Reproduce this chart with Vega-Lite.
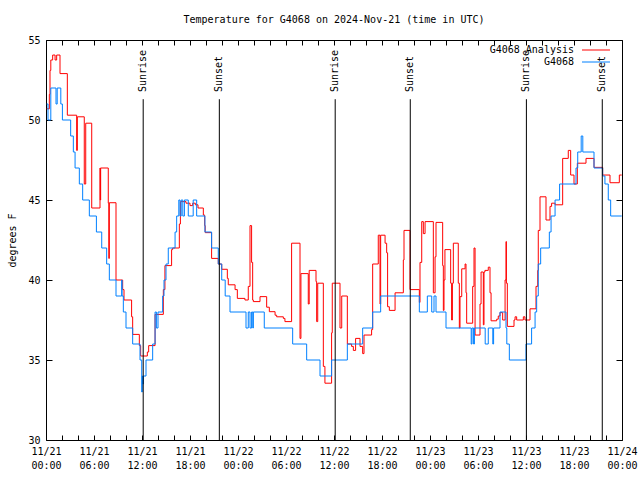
{
  "$schema": "https://vega.github.io/schema/vega-lite/v6.json",
  "width": 576,
  "height": 400,
  "autosize": "none",
  "padding": {"left": 46, "top": 40, "right": 18, "bottom": 40},
  "title": {"text": "Temperature for G4068 on 2024-Nov-21 (time in UTC)", "font": "DejaVu Sans Mono", "fontSize": 10, "fontWeight": "normal", "color": "black", "offset": 10, "anchor": "middle"},
  "config": {"view": {"stroke": "black", "strokeWidth": 1}, "font": "DejaVu Sans Mono"},
  "datasets": {
    "analysis": [
      {"t": "2024-11-21T00:05Z", "v": 50.7}, {"t": "2024-11-21T00:25Z", "v": 51.6}, {"t": "2024-11-21T00:30Z", "v": 53.1}, {"t": "2024-11-21T00:36Z", "v": 53.75}, {"t": "2024-11-21T00:50Z", "v": 54.06}, {"t": "2024-11-21T01:08Z", "v": 53.75}, {"t": "2024-11-21T01:20Z", "v": 54.06}, {"t": "2024-11-21T01:45Z", "v": 52.9}, {"t": "2024-11-21T02:40Z", "v": 50.3}, {"t": "2024-11-21T03:50Z", "v": 48.1}, {"t": "2024-11-21T03:55Z", "v": 50.2}, {"t": "2024-11-21T04:47Z", "v": 46.0}, {"t": "2024-11-21T04:58Z", "v": 49.8}, {"t": "2024-11-21T05:43Z", "v": 44.5}, {"t": "2024-11-21T06:45Z", "v": 47.0}, {"t": "2024-11-21T06:47Z", "v": 45.0}, {"t": "2024-11-21T06:50Z", "v": 47.0}, {"t": "2024-11-21T07:47Z", "v": 44.8}, {"t": "2024-11-21T07:51Z", "v": 41.35}, {"t": "2024-11-21T07:55Z", "v": 44.83}, {"t": "2024-11-21T08:45Z", "v": 40.0}, {"t": "2024-11-21T09:35Z", "v": 39.4}, {"t": "2024-11-21T09:45Z", "v": 38.75}, {"t": "2024-11-21T10:42Z", "v": 37.7}, {"t": "2024-11-21T10:50Z", "v": 36.6}, {"t": "2024-11-21T11:40Z", "v": 35.9}, {"t": "2024-11-21T11:50Z", "v": 35.25}, {"t": "2024-11-21T12:40Z", "v": 35.5}, {"t": "2024-11-21T12:50Z", "v": 35.9}, {"t": "2024-11-21T13:38Z", "v": 37.85}, {"t": "2024-11-21T14:40Z", "v": 39.4}, {"t": "2024-11-21T14:52Z", "v": 40.9}, {"t": "2024-11-21T15:42Z", "v": 41.9}, {"t": "2024-11-21T15:50Z", "v": 42.0}, {"t": "2024-11-21T16:40Z", "v": 43.5}, {"t": "2024-11-21T16:48Z", "v": 44.9}, {"t": "2024-11-21T17:30Z", "v": 44.8}, {"t": "2024-11-21T18:00Z", "v": 44.65}, {"t": "2024-11-21T18:20Z", "v": 44.8}, {"t": "2024-11-21T18:40Z", "v": 44.7}, {"t": "2024-11-21T19:00Z", "v": 44.5}, {"t": "2024-11-21T19:40Z", "v": 44.06}, {"t": "2024-11-21T19:50Z", "v": 43.4}, {"t": "2024-11-21T19:54Z", "v": 42.96}, {"t": "2024-11-21T20:42Z", "v": 41.35}, {"t": "2024-11-21T21:32Z", "v": 41.0}, {"t": "2024-11-21T21:58Z", "v": 40.67}, {"t": "2024-11-21T22:40Z", "v": 40.1}, {"t": "2024-11-21T22:47Z", "v": 39.7}, {"t": "2024-11-21T23:38Z", "v": 39.4}, {"t": "2024-11-21T23:55Z", "v": 38.85},
      {"t": "2024-11-22T00:52Z", "v": 38.75}, {"t": "2024-11-22T01:17Z", "v": 39.6}, {"t": "2024-11-22T01:30Z", "v": 43.4}, {"t": "2024-11-22T01:42Z", "v": 41.1}, {"t": "2024-11-22T01:50Z", "v": 38.75}, {"t": "2024-11-22T01:55Z", "v": 38.65}, {"t": "2024-11-22T02:45Z", "v": 38.96}, {"t": "2024-11-22T03:35Z", "v": 38.3}, {"t": "2024-11-22T03:55Z", "v": 38.02}, {"t": "2024-11-22T04:38Z", "v": 37.8}, {"t": "2024-11-22T04:50Z", "v": 37.7}, {"t": "2024-11-22T05:40Z", "v": 37.6}, {"t": "2024-11-22T05:52Z", "v": 37.4}, {"t": "2024-11-22T06:42Z", "v": 42.3}, {"t": "2024-11-22T07:45Z", "v": 36.35}, {"t": "2024-11-22T07:52Z", "v": 40.4}, {"t": "2024-11-22T08:47Z", "v": 38.5}, {"t": "2024-11-22T08:54Z", "v": 40.6}, {"t": "2024-11-22T09:45Z", "v": 39.9}, {"t": "2024-11-22T09:50Z", "v": 37.4}, {"t": "2024-11-22T09:58Z", "v": 39.8}, {"t": "2024-11-22T10:40Z", "v": 34.6}, {"t": "2024-11-22T10:52Z", "v": 33.55}, {"t": "2024-11-22T11:42Z", "v": 36.7}, {"t": "2024-11-22T11:47Z", "v": 39.8}, {"t": "2024-11-22T12:45Z", "v": 37.0}, {"t": "2024-11-22T12:58Z", "v": 39.0}, {"t": "2024-11-22T13:40Z", "v": 36.0}, {"t": "2024-11-22T14:12Z", "v": 35.85}, {"t": "2024-11-22T14:25Z", "v": 35.6}, {"t": "2024-11-22T14:42Z", "v": 36.35}, {"t": "2024-11-22T15:15Z", "v": 35.85}, {"t": "2024-11-22T15:35Z", "v": 35.4}, {"t": "2024-11-22T15:45Z", "v": 36.56}, {"t": "2024-11-22T16:42Z", "v": 36.9}, {"t": "2024-11-22T16:50Z", "v": 41.0}, {"t": "2024-11-22T17:32Z", "v": 42.8}, {"t": "2024-11-22T17:45Z", "v": 38.5}, {"t": "2024-11-22T17:50Z", "v": 42.8}, {"t": "2024-11-22T18:23Z", "v": 42.3}, {"t": "2024-11-22T18:35Z", "v": 41.7}, {"t": "2024-11-22T18:42Z", "v": 38.33}, {"t": "2024-11-22T18:55Z", "v": 38.1}, {"t": "2024-11-22T19:38Z", "v": 39.2}, {"t": "2024-11-22T20:40Z", "v": 41.25}, {"t": "2024-11-22T20:45Z", "v": 43.1}, {"t": "2024-11-22T21:30Z", "v": 39.4}, {"t": "2024-11-22T22:40Z", "v": 38.6}, {"t": "2024-11-22T22:45Z", "v": 41.1}, {"t": "2024-11-22T22:58Z", "v": 43.65}, {"t": "2024-11-22T23:10Z", "v": 42.9}, {"t": "2024-11-22T23:23Z", "v": 43.65},
      {"t": "2024-11-23T00:25Z", "v": 39.2}, {"t": "2024-11-23T00:38Z", "v": 41.45}, {"t": "2024-11-23T00:45Z", "v": 43.6}, {"t": "2024-11-23T01:35Z", "v": 40.9}, {"t": "2024-11-23T01:40Z", "v": 38.1}, {"t": "2024-11-23T01:45Z", "v": 40.0}, {"t": "2024-11-23T01:52Z", "v": 41.9}, {"t": "2024-11-23T02:35Z", "v": 39.8}, {"t": "2024-11-23T02:42Z", "v": 37.5}, {"t": "2024-11-23T02:48Z", "v": 39.8}, {"t": "2024-11-23T02:55Z", "v": 42.3}, {"t": "2024-11-23T03:32Z", "v": 39.8}, {"t": "2024-11-23T03:40Z", "v": 37.0}, {"t": "2024-11-23T03:45Z", "v": 38.96}, {"t": "2024-11-23T03:58Z", "v": 40.7}, {"t": "2024-11-23T04:23Z", "v": 41.0}, {"t": "2024-11-23T04:30Z", "v": 39.2}, {"t": "2024-11-23T04:35Z", "v": 37.3}, {"t": "2024-11-23T05:20Z", "v": 39.6}, {"t": "2024-11-23T05:30Z", "v": 42.0}, {"t": "2024-11-23T05:38Z", "v": 36.56}, {"t": "2024-11-23T06:15Z", "v": 38.5}, {"t": "2024-11-23T06:23Z", "v": 40.5}, {"t": "2024-11-23T06:40Z", "v": 37.2}, {"t": "2024-11-23T06:45Z", "v": 40.5}, {"t": "2024-11-23T06:52Z", "v": 40.6}, {"t": "2024-11-23T07:17Z", "v": 40.8}, {"t": "2024-11-23T07:30Z", "v": 39.2}, {"t": "2024-11-23T07:38Z", "v": 37.45}, {"t": "2024-11-23T08:20Z", "v": 37.55}, {"t": "2024-11-23T08:32Z", "v": 37.75}, {"t": "2024-11-23T08:45Z", "v": 37.96}, {"t": "2024-11-23T09:05Z", "v": 37.5}, {"t": "2024-11-23T09:23Z", "v": 40.0}, {"t": "2024-11-23T09:30Z", "v": 42.4}, {"t": "2024-11-23T09:33Z", "v": 39.8}, {"t": "2024-11-23T09:40Z", "v": 37.1}, {"t": "2024-11-23T10:30Z", "v": 37.5}, {"t": "2024-11-23T10:38Z", "v": 37.7}, {"t": "2024-11-23T10:50Z", "v": 37.5}, {"t": "2024-11-23T11:40Z", "v": 37.7}, {"t": "2024-11-23T11:52Z", "v": 37.5}, {"t": "2024-11-23T12:30Z", "v": 38.2}, {"t": "2024-11-23T13:15Z", "v": 39.6}, {"t": "2024-11-23T13:28Z", "v": 40.6}, {"t": "2024-11-23T13:32Z", "v": 43.1}, {"t": "2024-11-23T13:45Z", "v": 45.2}, {"t": "2024-11-23T14:30Z", "v": 43.75}, {"t": "2024-11-23T15:00Z", "v": 44.6}, {"t": "2024-11-23T15:12Z", "v": 44.8}, {"t": "2024-11-23T15:38Z", "v": 44.7}, {"t": "2024-11-23T16:35Z", "v": 47.6}, {"t": "2024-11-23T17:17Z", "v": 48.1}, {"t": "2024-11-23T17:35Z", "v": 46.56}, {"t": "2024-11-23T18:00Z", "v": 46.0}, {"t": "2024-11-23T18:25Z", "v": 47.3}, {"t": "2024-11-23T19:30Z", "v": 47.6}, {"t": "2024-11-23T20:30Z", "v": 47.04}, {"t": "2024-11-23T21:35Z", "v": 46.56}, {"t": "2024-11-23T22:30Z", "v": 46.08}, {"t": "2024-11-23T23:40Z", "v": 46.56}, {"t": "2024-11-23T23:58Z", "v": 46.56}
    ],
    "observed": [
      {"t": "2024-11-21T00:05Z", "v": 51}, {"t": "2024-11-21T00:15Z", "v": 50}, {"t": "2024-11-21T00:36Z", "v": 52}, {"t": "2024-11-21T01:15Z", "v": 51}, {"t": "2024-11-21T01:24Z", "v": 52}, {"t": "2024-11-21T01:51Z", "v": 51}, {"t": "2024-11-21T02:03Z", "v": 50}, {"t": "2024-11-21T03:05Z", "v": 49}, {"t": "2024-11-21T03:25Z", "v": 48}, {"t": "2024-11-21T03:38Z", "v": 47}, {"t": "2024-11-21T04:10Z", "v": 46}, {"t": "2024-11-21T04:35Z", "v": 45}, {"t": "2024-11-21T05:25Z", "v": 44}, {"t": "2024-11-21T06:18Z", "v": 43}, {"t": "2024-11-21T06:58Z", "v": 42}, {"t": "2024-11-21T07:35Z", "v": 41}, {"t": "2024-11-21T07:55Z", "v": 40}, {"t": "2024-11-21T08:45Z", "v": 39}, {"t": "2024-11-21T09:28Z", "v": 40}, {"t": "2024-11-21T09:30Z", "v": 39}, {"t": "2024-11-21T09:40Z", "v": 38}, {"t": "2024-11-21T10:00Z", "v": 37}, {"t": "2024-11-21T10:50Z", "v": 36}, {"t": "2024-11-21T11:45Z", "v": 35}, {"t": "2024-11-21T11:58Z", "v": 33}, {"t": "2024-11-21T12:02Z", "v": 34}, {"t": "2024-11-21T12:06Z", "v": 33.5}, {"t": "2024-11-21T12:10Z", "v": 34}, {"t": "2024-11-21T12:30Z", "v": 35}, {"t": "2024-11-21T13:20Z", "v": 36}, {"t": "2024-11-21T13:38Z", "v": 38}, {"t": "2024-11-21T13:48Z", "v": 37}, {"t": "2024-11-21T14:00Z", "v": 38}, {"t": "2024-11-21T14:35Z", "v": 39}, {"t": "2024-11-21T14:45Z", "v": 40}, {"t": "2024-11-21T15:00Z", "v": 41}, {"t": "2024-11-21T15:17Z", "v": 42}, {"t": "2024-11-21T16:08Z", "v": 43}, {"t": "2024-11-21T16:20Z", "v": 44}, {"t": "2024-11-21T16:36Z", "v": 45}, {"t": "2024-11-21T16:45Z", "v": 44}, {"t": "2024-11-21T16:54Z", "v": 45}, {"t": "2024-11-21T17:06Z", "v": 44}, {"t": "2024-11-21T17:18Z", "v": 45}, {"t": "2024-11-21T17:47Z", "v": 44}, {"t": "2024-11-21T18:24Z", "v": 45}, {"t": "2024-11-21T18:50Z", "v": 44}, {"t": "2024-11-21T19:52Z", "v": 43}, {"t": "2024-11-21T20:42Z", "v": 42}, {"t": "2024-11-21T21:32Z", "v": 41}, {"t": "2024-11-21T21:58Z", "v": 40}, {"t": "2024-11-21T22:24Z", "v": 39}, {"t": "2024-11-21T23:00Z", "v": 38},
      {"t": "2024-11-22T01:00Z", "v": 37}, {"t": "2024-11-22T01:17Z", "v": 38}, {"t": "2024-11-22T01:30Z", "v": 37}, {"t": "2024-11-22T01:42Z", "v": 38}, {"t": "2024-11-22T01:51Z", "v": 37}, {"t": "2024-11-22T01:55Z", "v": 38}, {"t": "2024-11-22T03:17Z", "v": 37}, {"t": "2024-11-22T06:50Z", "v": 36}, {"t": "2024-11-22T08:35Z", "v": 35}, {"t": "2024-11-22T10:15Z", "v": 34}, {"t": "2024-11-22T11:42Z", "v": 35}, {"t": "2024-11-22T13:40Z", "v": 36}, {"t": "2024-11-22T15:35Z", "v": 37}, {"t": "2024-11-22T16:50Z", "v": 38}, {"t": "2024-11-22T17:50Z", "v": 39}, {"t": "2024-11-22T22:40Z", "v": 38}, {"t": "2024-11-22T23:40Z", "v": 39},
      {"t": "2024-11-23T00:13Z", "v": 38}, {"t": "2024-11-23T00:30Z", "v": 39}, {"t": "2024-11-23T00:45Z", "v": 38}, {"t": "2024-11-23T02:00Z", "v": 37}, {"t": "2024-11-23T05:09Z", "v": 36}, {"t": "2024-11-23T05:15Z", "v": 37}, {"t": "2024-11-23T05:27Z", "v": 36}, {"t": "2024-11-23T05:33Z", "v": 37}, {"t": "2024-11-23T06:54Z", "v": 36}, {"t": "2024-11-23T07:17Z", "v": 37}, {"t": "2024-11-23T07:51Z", "v": 36}, {"t": "2024-11-23T07:57Z", "v": 37}, {"t": "2024-11-23T08:45Z", "v": 38}, {"t": "2024-11-23T09:30Z", "v": 37}, {"t": "2024-11-23T09:36Z", "v": 36}, {"t": "2024-11-23T09:55Z", "v": 35}, {"t": "2024-11-23T12:00Z", "v": 36}, {"t": "2024-11-23T12:42Z", "v": 37}, {"t": "2024-11-23T13:08Z", "v": 38}, {"t": "2024-11-23T13:20Z", "v": 39}, {"t": "2024-11-23T13:32Z", "v": 41}, {"t": "2024-11-23T13:50Z", "v": 42}, {"t": "2024-11-23T14:55Z", "v": 43}, {"t": "2024-11-23T15:08Z", "v": 44}, {"t": "2024-11-23T15:38Z", "v": 45}, {"t": "2024-11-23T16:12Z", "v": 46}, {"t": "2024-11-23T18:15Z", "v": 47}, {"t": "2024-11-23T18:28Z", "v": 48}, {"t": "2024-11-23T18:54Z", "v": 49}, {"t": "2024-11-23T19:06Z", "v": 48}, {"t": "2024-11-23T20:30Z", "v": 47}, {"t": "2024-11-23T21:35Z", "v": 46.5}, {"t": "2024-11-23T21:52Z", "v": 46}, {"t": "2024-11-23T22:17Z", "v": 45}, {"t": "2024-11-23T22:35Z", "v": 44}, {"t": "2024-11-23T23:58Z", "v": 44}
    ],
    "sun": [
      {"t": "2024-11-21T12:09Z", "label": "Sunrise"}, {"t": "2024-11-21T21:40Z", "label": "Sunset"},
      {"t": "2024-11-22T12:09Z", "label": "Sunrise"}, {"t": "2024-11-22T21:32Z", "label": "Sunset"},
      {"t": "2024-11-23T12:03Z", "label": "Sunrise"}, {"t": "2024-11-23T21:32Z", "label": "Sunset"}
    ]
  },
  "layer": [
    {
      "data": {"name": "analysis"},
      "mark": {"type": "line", "interpolate": "step-after", "strokeWidth": 1},
      "encoding": {
        "x": {"field": "t", "type": "temporal",
          "scale": {"type": "utc", "domain": [1732147200000, 1732406400000]},
          "axis": {"orient": "bottom", "title": null, "grid": false, "domain": false, "ticks": false,
            "values": [1732147200000, 1732168800000, 1732190400000, 1732212000000, 1732233600000, 1732255200000, 1732276800000, 1732298400000, 1732320000000, 1732341600000, 1732363200000, 1732384800000, 1732406400000],
            "labelPadding": 6, "labelOverlap": false, "labelFlush": false, "labelFont": "DejaVu Sans Mono", "labelFontSize": 10, "labelColor": "black", "labelLineHeight": 14,
            "labelExpr": "[utcFormat(datum.value, '%m/%d'), utcFormat(datum.value, '%H:%M')]"}},
        "y": {"field": "v", "type": "quantitative",
          "scale": {"domain": [30, 55], "nice": false, "zero": false},
          "axis": {"orient": "left", "title": "degrees F", "titleFont": "DejaVu Sans Mono", "titleFontSize": 10, "titleFontWeight": "normal", "titleColor": "black", "titlePadding": 10, "grid": false, "domain": false, "ticks": false, "values": [30, 35, 40, 45, 50, 55], "labelPadding": 6, "labelFont": "DejaVu Sans Mono", "labelFontSize": 10, "labelColor": "black", "labelFlush": false}},
        "color": {"datum": "G4068 Analysis", "type": "nominal",
          "scale": {"domain": ["G4068 Analysis", "G4068"], "range": ["#ff0000", "#0080ff"]},
          "legend": {"orient": "none", "legendX": 543.5, "legendY": 3.5, "title": null, "symbolType": "M-2.333,0H2.333", "symbolSize": 144, "symbolStrokeWidth": 1, "labelAlign": "right", "labelOffset": -28.5, "labelFont": "DejaVu Sans Mono", "labelFontSize": 10, "labelColor": "black", "rowPadding": 0, "padding": 0, "labelLimit": 0}}
      }
    },
    {
      "data": {"name": "observed"},
      "mark": {"type": "line", "interpolate": "step-after", "strokeWidth": 1},
      "encoding": {
        "x": {"field": "t", "type": "temporal", "scale": {"type": "utc"},
          "axis": {"orient": "top", "title": null, "grid": false, "domain": false, "labels": false,
            "values": [1732147200000, 1732154400000, 1732161600000, 1732168800000, 1732176000000, 1732183200000, 1732190400000, 1732197600000, 1732204800000, 1732212000000, 1732219200000, 1732226400000, 1732233600000, 1732240800000, 1732248000000, 1732255200000, 1732262400000, 1732269600000, 1732276800000, 1732284000000, 1732291200000, 1732298400000, 1732305600000, 1732312800000, 1732320000000, 1732327200000, 1732334400000, 1732341600000, 1732348800000, 1732356000000, 1732363200000, 1732370400000, 1732377600000, 1732384800000, 1732392000000, 1732399200000, 1732406400000],
            "tickSize": 5, "offset": -5, "tickColor": "black"}},
        "y": {"field": "v", "type": "quantitative",
          "axis": {"orient": "right", "title": null, "grid": false, "domain": false, "labels": false, "values": [30, 35, 40, 45, 50, 55], "tickSize": 6, "offset": -6, "tickColor": "black"}},
        "color": {"datum": "G4068", "type": "nominal"}
      }
    },
    {
      "data": {"name": "sun"},
      "mark": {"type": "rule", "color": "black", "strokeWidth": 1},
      "encoding": {
        "x": {"field": "t", "type": "temporal", "scale": {"type": "utc"},
          "axis": {"orient": "bottom", "title": null, "grid": false, "domain": false, "labels": false,
            "values": [1732147200000, 1732154400000, 1732161600000, 1732168800000, 1732176000000, 1732183200000, 1732190400000, 1732197600000, 1732204800000, 1732212000000, 1732219200000, 1732226400000, 1732233600000, 1732240800000, 1732248000000, 1732255200000, 1732262400000, 1732269600000, 1732276800000, 1732284000000, 1732291200000, 1732298400000, 1732305600000, 1732312800000, 1732320000000, 1732327200000, 1732334400000, 1732341600000, 1732348800000, 1732356000000, 1732363200000, 1732370400000, 1732377600000, 1732384800000, 1732392000000, 1732399200000, 1732406400000],
            "tickSize": 5, "offset": -5, "tickColor": "black"}},
        "y": {"datum": 30, "type": "quantitative",
          "axis": {"orient": "left", "title": null, "grid": false, "domain": false, "labels": false, "values": [30, 35, 40, 45, 50, 55], "tickSize": 6, "offset": -6, "tickColor": "black"}},
        "y2": {"datum": 51.3}
      }
    },
    {
      "data": {"name": "sun"},
      "mark": {"type": "text", "angle": 270, "align": "left", "baseline": "middle", "font": "DejaVu Sans Mono", "fontSize": 10, "color": "black"},
      "encoding": {
        "x": {"field": "t", "type": "temporal", "scale": {"type": "utc"}, "axis": null},
        "y": {"datum": 51.75, "type": "quantitative", "axis": null},
        "text": {"field": "label"}
      }
    }
  ],
  "resolve": {"axis": {"x": "independent", "y": "independent"}}
}
